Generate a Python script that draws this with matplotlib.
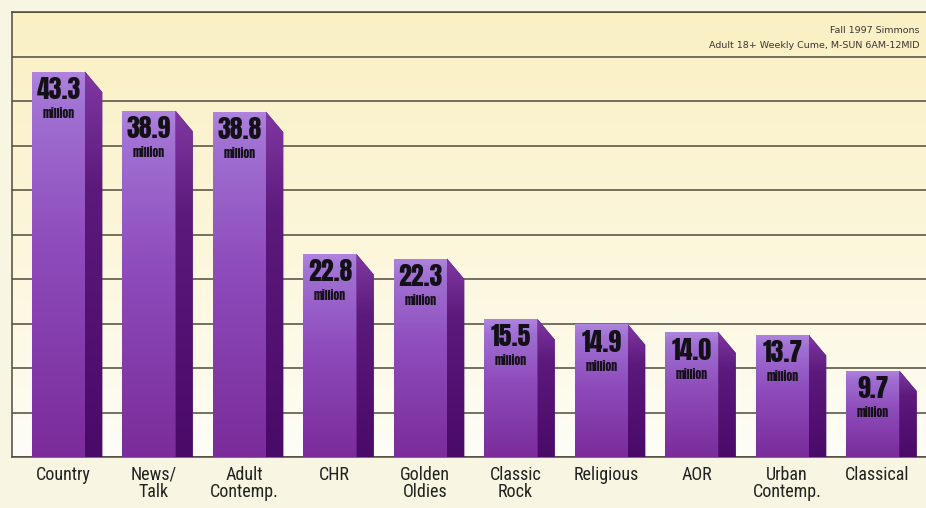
import numpy as np
import matplotlib
matplotlib.use("Agg")
import matplotlib.pyplot as plt
from matplotlib.colors import LinearSegmentedColormap
from matplotlib.patches import Polygon

categories = ["Country", "News/\nTalk", "Adult\nContemp.", "CHR", "Golden\nOldies",
              "Classic\nRock", "Religious", "AOR", "Urban\nContemp.", "Classical"]
values = [43.3, 38.9, 38.8, 22.8, 22.3, 15.5, 14.9, 14.0, 13.7, 9.7]
value_labels = ["43.3", "38.9", "38.8", "22.8", "22.3", "15.5", "14.9", "14.0", "13.7", "9.7"]
note_lines = ["Fall 1997 Simmons", "Adult 18+ Weekly Cume, M-SUN 6AM-12MID"]

NUMFONT = ["Anton", "DejaVu Sans"]
CATFONT = ["Roboto Condensed", "DejaVu Sans"]

fig = plt.figure(figsize=(9.26, 5.08), dpi=100, facecolor="#f8f5e2")
ax = fig.add_axes([12 / 926, 51 / 508, 914 / 926, 445 / 508])
ax.set_xlim(-0.514, 9.586)
ax.set_ylim(0, 50)

# background gradient of the plot area
bg = LinearSegmentedColormap.from_list("bg", ["#fefdf7", "#fcf6da", "#faf0c4"])
grad = np.linspace(0, 1, 256).reshape(-1, 1)
ax.imshow(grad, cmap=bg, aspect="auto", extent=(-0.514, 9.586, 0, 50),
          origin="lower", zorder=-2)

# gridlines
ax.set_yticks(np.arange(0, 51, 5))
ax.set_yticklabels([])
ax.tick_params(axis="y", length=0)
ax.grid(axis="y", color="#4f4a3c", linewidth=1.1)
ax.set_axisbelow(True)
ax.set_xticks([])
ax.spines["right"].set_visible(False)
for s in ["left", "top", "bottom"]:
    ax.spines[s].set_color("#4f4a3c")
    ax.spines[s].set_linewidth(1.1)

front_cmap = LinearSegmentedColormap.from_list(
    "front", [(0.0, "#7a2c9a"), (0.55, "#8e4cbc"), (0.9, "#a070d2"), (1.0, "#ae84de")])
side_cmap = LinearSegmentedColormap.from_list(
    "side", [(0.0, "#4a0a68"), (0.7, "#5c1a7c"), (1.0, "#8038a2")])
w = 0.586
d = 0.19
dy = 2.3
x = np.arange(len(values))
bars = ax.bar(x, values, width=w, color="none", edgecolor="none", zorder=3)
for xi, v, b in zip(x, values, bars):
    im = ax.imshow(grad, cmap=front_cmap, aspect="auto",
                   extent=(xi - w / 2, xi + w / 2, 0, v), origin="lower", zorder=3)
    im.set_clip_path(b)
    side = Polygon([(xi + w / 2, v), (xi + w / 2 + d, v - dy),
                    (xi + w / 2 + d, 0), (xi + w / 2, 0)],
                   closed=True, facecolor="#58146f", edgecolor="none", zorder=3)
    ax.add_patch(side)
    ims = ax.imshow(grad, cmap=side_cmap, aspect="auto",
                    extent=(xi + w / 2, xi + w / 2 + d, 0, v), origin="lower", zorder=3.1)
    ims.set_clip_path(side)

for xi, v, lab in zip(x, values, value_labels):
    ax.text(xi, v - 0.6, lab, ha="center", va="top", fontsize=18.5,
            family=NUMFONT, color="#141018", zorder=5)
    ax.text(xi, v - 4.7, "million", ha="center", va="center", fontsize=8.5,
            family=NUMFONT, color="#141018", zorder=5)

for xi, c in zip(x, categories):
    ax.text(xi + 0.05, -1.0, c, ha="center", va="top", fontsize=13,
            family=CATFONT, color="#222220", linespacing=0.92, clip_on=False)

ax.text(0.993, 0.959, note_lines[0], transform=ax.transAxes, ha="right", va="center",
        fontsize=6.8, color="#3a3630")
ax.text(0.993, 0.925, note_lines[1], transform=ax.transAxes, ha="right", va="center",
        fontsize=6.8, color="#3a3630")

fig.savefig("out.png", dpi=100, facecolor=fig.get_facecolor())
